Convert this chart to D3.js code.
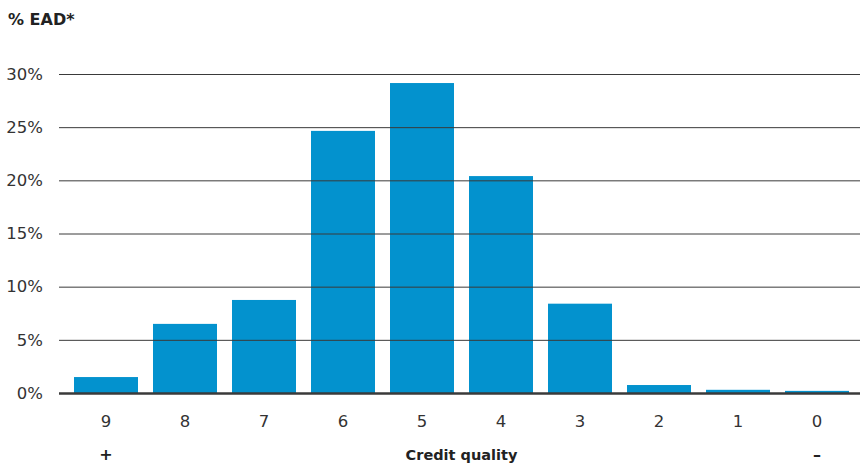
<!DOCTYPE html>
<html>
<head>
<meta charset="utf-8">
<script src="https://cdn.jsdelivr.net/npm/d3@7"></script>
<style>
  body { margin: 0; background: #fff; }
  text { font-family: "DejaVu Sans", "Liberation Sans", sans-serif; }
</style>
</head>
<body>
<div id="chart"></div>
<script>
const W = 860, H = 463

const categories = ["9", "8", "7", "6", "5", "4", "3", "2", "1", "0"]
const values = [1.5, 6.5, 8.75, 24.65, 29.15, 20.4, 8.4, 0.75, 0.3, 0.2]
const yTicks = [0, 5, 10, 15, 20, 25, 30]

const svg = d3.select("#chart")
    .append("svg")
    .attr("width", W)
    .attr("height", H)

const x = d3.scaleBand()
    .domain(categories)
    .range([66.5, 856.5])
    .paddingInner(15 / 79)
    .paddingOuter(7.5 / 79)

const y = d3.scaleLinear()
    .domain([0, 30])
    .range([393, 74])

// bars
svg.append("g")
    .selectAll("rect")
    .data(values)
    .join("rect")
    .attr("x", (d, i) => x(categories[i]))
    .attr("width", x.bandwidth())
    .attr("y", d => y(d))
    .attr("height", d => y(0) - y(d))
    .attr("fill", "#0392ce")

// gridlines drawn on top of the bars
const yAxis = d3.axisLeft(y)
    .tickValues(yTicks)
    .tickFormat(d => d + "%")
    .tickSize(-(860 - 59))

const gy = svg.append("g")
    .attr("transform", "translate(59,0)")
    .call(yAxis)
gy.select(".domain").remove()
gy.selectAll(".tick line")
    .attr("stroke", "#3a3a3a")
    .attr("stroke-width", d => d === 0 ? 2.5 : 1)
gy.selectAll(".tick text")
    .attr("font-size", 16.5)
    .attr("fill", "#333")
    .attr("x", -16)

// x labels
const xAxis = d3.axisBottom(x).tickSize(0).tickPadding(22)
const gx = svg.append("g")
    .attr("transform", `translate(0,${y(0)})`)
    .call(xAxis)
gx.select(".domain").remove()
gx.selectAll(".tick text")
    .attr("font-size", 16.5)
    .attr("fill", "#333")

// title
svg.append("text")
    .attr("x", 8)
    .attr("y", 25)
    .attr("font-size", 16)
    .attr("font-weight", "bold")
    .attr("fill", "#222")
    .text("% EAD*")

// axis caption
svg.append("text")
    .attr("x", (x("5") + x("4") + x.bandwidth()) / 2)
    .attr("y", 460)
    .attr("text-anchor", "middle")
    .attr("font-size", 14.5)
    .attr("font-weight", "bold")
    .attr("fill", "#222")
    .text("Credit quality")

svg.append("text")
    .attr("x", x("9") + x.bandwidth() / 2)
    .attr("y", 460)
    .attr("text-anchor", "middle")
    .attr("font-size", 16)
    .attr("font-weight", "bold")
    .attr("fill", "#222")
    .text("+")

svg.append("text")
    .attr("x", x("0") + x.bandwidth() / 2)
    .attr("y", 460)
    .attr("text-anchor", "middle")
    .attr("font-size", 16)
    .attr("font-weight", "bold")
    .attr("fill", "#222")
    .text("–")
</script>
</body>
</html>
